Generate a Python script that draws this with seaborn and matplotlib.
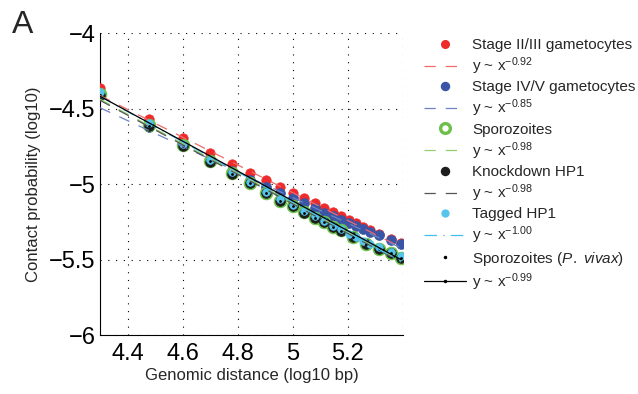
import numpy as np
import pandas as pd
import matplotlib
matplotlib.use("Agg")
import matplotlib.pyplot as plt
from matplotlib.lines import Line2D
import seaborn as sns

sns.set_style("white")
plt.rcParams["font.family"] = ["Liberation Sans", "DejaVu Sans"]
plt.rcParams["mathtext.fontset"] = "custom"
plt.rcParams["mathtext.rm"] = "Liberation Sans"
plt.rcParams["mathtext.it"] = "Liberation Sans:italic"
plt.rcParams["mathtext.default"] = "regular"

# log10 genomic distance (bp) for each binned series
x_fine = [4.301, 4.477, 4.602, 4.699, 4.778, 4.845, 4.903, 4.954, 5.000, 5.041,
          5.079, 5.114, 5.146, 5.176, 5.204, 5.230, 5.255, 5.279, 5.312, 5.355, 5.393]
x_coarse = [4.301, 4.477, 4.602, 4.699, 4.778, 4.845, 4.903, 4.954, 5.000, 5.041,
            5.079, 5.114, 5.146, 5.176, 5.219, 5.267, 5.312, 5.355, 5.393]

# log10 contact probability
stage23 = [-4.366, -4.570, -4.698, -4.793, -4.868, -4.929, -4.974, -5.018, -5.058, -5.096,
           -5.124, -5.157, -5.183, -5.210, -5.238, -5.256, -5.283, -5.305, -5.330, -5.365, -5.393]
stage45 = [-4.410, -4.625, -4.745, -4.840, -4.915, -4.975, -5.020, -5.060, -5.095, -5.128,
           -5.160, -5.190, -5.215, -5.238, -5.258, -5.280, -5.300, -5.318, -5.340, -5.372, -5.400]
sporozoites = [-4.405, -4.612, -4.743, -4.848, -4.930, -4.993, -5.058, -5.110, -5.147, -5.188,
               -5.224, -5.250, -5.282, -5.307, -5.348, -5.395, -5.430, -5.458, -5.490]
knockdown = [-4.412, -4.618, -4.748, -4.852, -4.934, -4.996, -5.062, -5.114, -5.148, -5.190,
             -5.227, -5.252, -5.284, -5.309, -5.350, -5.397, -5.433, -5.460, -5.492]
tagged = [-4.390, -4.598, -4.735, -4.840, -4.922, -4.988, -5.050, -5.100, -5.140, -5.180,
          -5.215, -5.245, -5.275, -5.300, -5.330, -5.350, -5.375, -5.395, -5.420, -5.452, -5.480]
vivax = [-4.408, -4.615, -4.746, -4.850, -4.932, -4.995, -5.060, -5.112, -5.148, -5.189,
         -5.226, -5.251, -5.283, -5.308, -5.349, -5.396, -5.432, -5.459, -5.491]

# power-law fits: slope (exponent) and intercept in log-log space
exponents = [-0.92, -0.85, -0.98, -0.98, -1.00, -0.99]
intercepts = [-0.458, -0.840, -0.225, -0.232, -0.120, -0.162]
fit_range = [4.30, 5.393]

names = ["Stage II/III gametocytes", "Stage IV/V gametocytes", "Sporozoites",
         "Knockdown HP1", "Tagged HP1", r"Sporozoites ($\it{P.\ vivax}$)"]

pt_colors = ["#ee2a2a", "#3a55a5", "#6cc04a", "#1d1d1d", "#56c5ec", "#000000"]
fit_colors = ["#f0696b", "#6e83c4", "#93d070", "#555555", "#40c0ee", "#000000"]
fit_styles = [(0, (9, 8)), (0, (9, 8)), (0, (9, 8)), (0, (9, 8)), (0, (10, 5, 1, 5)), "-"]

series_x = [x_fine, x_fine, x_coarse, x_coarse, x_fine, x_coarse]
series_y = [stage23, stage45, sporozoites, knockdown, tagged, vivax]

fig = plt.figure(figsize=(6.38, 3.94), dpi=100)
ax = fig.add_axes([100 / 638, 1 - 335 / 394, 303 / 638, 302 / 394])

pt_style = [
    dict(s=46, color=pt_colors[0], edgecolor=pt_colors[0], linewidth=0.5),
    dict(s=50, color=pt_colors[1], edgecolor=pt_colors[1], linewidth=0.5),
    dict(s=85, color=pt_colors[2], edgecolor=pt_colors[2], linewidth=0.5),
    dict(s=48, color=pt_colors[3], edgecolor=pt_colors[3], linewidth=0.5),
    dict(s=30, color=pt_colors[4], edgecolor=pt_colors[4], linewidth=0.5),
    dict(s=4, color=pt_colors[5], edgecolor=pt_colors[5], linewidth=0),
]

for i in range(6):
    df = pd.DataFrame({"x": series_x[i], "y": series_y[i]})
    sns.scatterplot(data=df, x="x", y="y", ax=ax, marker="o", zorder=3 + i,
                    legend=False, **pt_style[i])
    fx = np.array(fit_range)
    fdf = pd.DataFrame({"x": fx, "y": intercepts[i] + exponents[i] * fx})
    sns.lineplot(data=fdf, x="x", y="y", ax=ax, color=fit_colors[i], linewidth=0.9,
                 linestyle=fit_styles[i], zorder=10 + i, legend=False)

ax.set_xlim(4.3, 5.4)
ax.set_ylim(-6, -4)
ax.set_xticks([4.4, 4.6, 4.8, 5.0, 5.2, 5.4])
ax.set_xticklabels(["4.4", "4.6", "4.8", "5", "5.2", ""])
ax.set_yticks([-6, -5.5, -5, -4.5, -4])
ax.set_yticklabels(["\u22126", "\u22125.5", "\u22125", "\u22124.5", "\u22124"])
ax.tick_params(direction="in", length=3, width=0.6, labelsize=17, pad=3, colors="black")
ax.tick_params(axis="x", pad=6)
ax.grid(True, linestyle=(0, (1, 6)), color="black", linewidth=0.8)
for s in ["top", "right"]:
    ax.spines[s].set_visible(False)
for s in ["left", "bottom"]:
    ax.spines[s].set_color("black")
    ax.spines[s].set_linewidth(0.8)

ax.set_xlabel("Genomic distance (log10 bp)", fontsize=12, labelpad=2)
ax.set_ylabel("Contact probability (log10)", fontsize=12, labelpad=6)

# legend: marker entry followed by its fit entry
handles, labels = [], []
leg_ms = [5.5, 5.8, 7.0, 5.8, 5.0, 1.5]
for i in range(6):
    if i == 2:
        h = Line2D([], [], linestyle="none", marker="o", markersize=leg_ms[i],
                   markerfacecolor="white", markeredgecolor=pt_colors[i], markeredgewidth=2.4)
    else:
        h = Line2D([], [], linestyle="none", marker="o", markersize=leg_ms[i],
                   markerfacecolor=pt_colors[i], markeredgecolor=pt_colors[i])
    handles.append(h)
    labels.append(names[i])
    if i == 5:
        fh = Line2D([], [], color=fit_colors[i], linewidth=0.9, linestyle="-",
                    marker="o", markersize=1.5)
    else:
        fh = Line2D([], [], color=fit_colors[i], linewidth=0.9, linestyle=fit_styles[i])
    handles.append(fh)
    labels.append("y ~ x$^{%.2f}$" % exponents[i])

fig.legend(handles, labels, loc="upper left", bbox_to_anchor=(424 / 638, 1 - 38 / 394),
           frameon=False, fontsize=11, handlelength=2.75, handletextpad=0.4,
           labelspacing=0.22, borderpad=0, borderaxespad=0, numpoints=1)

fig.text(12 / 638, 1 - 10 / 394, "A", fontsize=23, ha="left", va="top")

fig.savefig("out.png", dpi=100)
